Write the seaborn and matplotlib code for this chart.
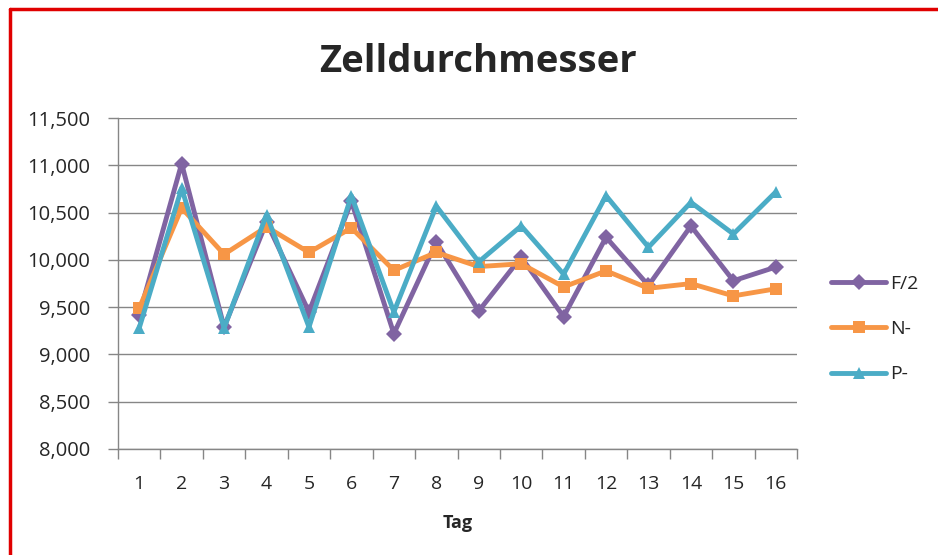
import pandas as pd
import numpy as np
import seaborn as sns
import matplotlib.pyplot as plt
from matplotlib.lines import Line2D
from matplotlib.ticker import FuncFormatter

# values
tage = list(range(1, 17))
f2 = [9420, 11020, 9290, 10400, 9450, 10620, 9220, 10190,
      9460, 10030, 9400, 10240, 9730, 10360, 9780, 9925]
n_minus = [9490, 10550, 10060, 10350, 10080, 10340, 9890, 10080,
           9930, 9960, 9715, 9885, 9700, 9750, 9620, 9695]
p_minus = [9280, 10760, 9280, 10480, 9290, 10680, 9450, 10570,
           9980, 10360, 9850, 10680, 10135, 10610, 10275, 10720]

serien = ["F/2", "N-", "P-"]
farben = {"F/2": "#8064A2", "N-": "#F79646", "P-": "#4BACC6"}
marker = {"F/2": "D", "N-": "s", "P-": "^"}

df = pd.DataFrame({"Tag": tage * 3,
                   "Wert": f2 + n_minus + p_minus,
                   "Serie": ["F/2"] * 16 + ["N-"] * 16 + ["P-"] * 16})

sns.set_style("white")
plt.rcParams['font.family'] = ['Open Sans', 'DejaVu Sans']

fig = plt.figure(figsize=(9.38, 5.55), dpi=100)
ax = fig.add_axes([0.1258, 0.191, 0.7239, 0.596])

sns.lineplot(data=df, x="Tag", y="Wert", hue="Serie", style="Serie",
             palette=farben, markers=marker, dashes=False, linewidth=3.5,
             markersize=8, markeredgewidth=0, ax=ax)

ax.set_xlim(0.5, 16.5)
ax.set_ylim(8000, 11500)
ax.set_yticks(np.arange(8000, 11501, 500))
ax.yaxis.set_major_formatter(FuncFormatter(lambda v, p: f"{int(v):,}"))
ax.set_xticks(tage)
ax.set_xticks(np.arange(0.5, 16.6, 1), minor=True)
ax.tick_params(axis="x", which="major", length=0, labelsize=14, pad=19)
ax.tick_params(axis="x", which="minor", length=7, width=1, color="#868686",
               direction="out", bottom=True)
ax.tick_params(axis="y", length=7, width=1, color="#868686", direction="out",
               left=True, labelsize=14.5, pad=13)
ax.grid(axis="y", color="#868686", linewidth=1)
ax.set_axisbelow(True)
for s in ["top", "right"]:
    ax.spines[s].set_visible(False)
for s in ["left", "bottom"]:
    ax.spines[s].set_color("#868686")
    ax.spines[s].set_linewidth(1)

ax.set_xlabel("Tag", fontsize=13, fontweight="bold", labelpad=15)
ax.set_ylabel("")
fig.text(0.510, 0.888, "Zelldurchmesser", ha="center", va="center",
         fontsize=27.5, fontweight="bold")

ax.legend(loc="center left", bbox_to_anchor=(1.025, 0.3625), frameon=False,
          fontsize=14, labelspacing=1.4, handlelength=2.8, handletextpad=0.2,
          title=None)

# red frame at top and left edge
fig.add_artist(Line2D([9.5 / 938, 9.5 / 938], [0, 1 - 8.5 / 555],
                      color="#E00000", linewidth=2.5))
fig.add_artist(Line2D([9.5 / 938, 1], [1 - 8.5 / 555, 1 - 8.5 / 555],
                      color="#E00000", linewidth=2.5))

plt.savefig("out.png", dpi=100)
